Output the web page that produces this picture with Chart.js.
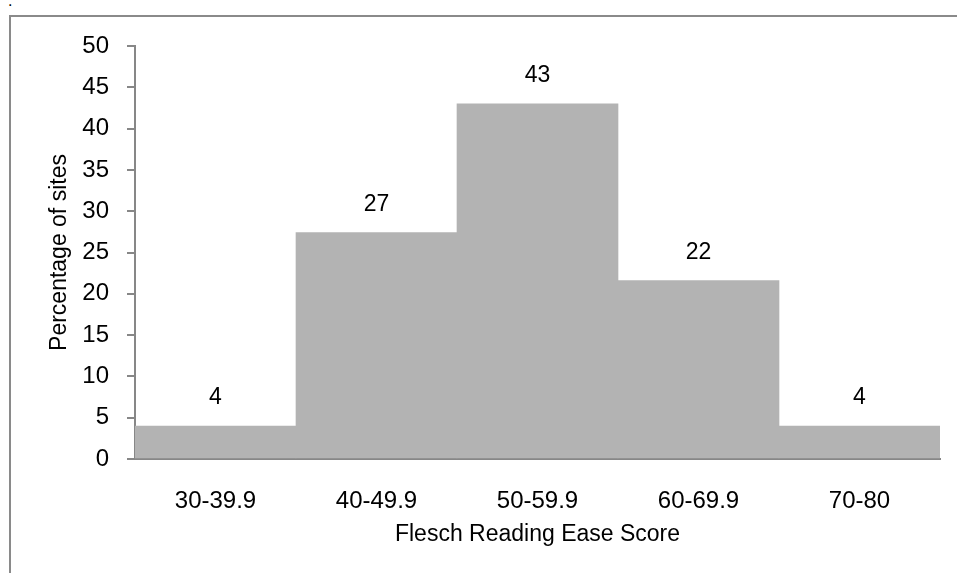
<!DOCTYPE html>
<html>
<head>
<meta charset="utf-8">
<script src="https://cdn.jsdelivr.net/npm/chart.js@4/dist/chart.umd.min.js"></script>
<style>
    html, body { margin: 0; padding: 0; background: #fff; }
    #wrap { position: relative; width: 957px; height: 573px; overflow: hidden; }
    #frame {
        position: absolute; left: 9px; top: 15px; width: 1000px; height: 700px;
        border-left: 2px solid #8a8a8a; border-top: 2px solid #8a8a8a;
    }
    #dot { position: absolute; left: 8px; top: -8px; font: 16px "Liberation Sans", Arial, sans-serif; color: #000; }
    canvas { position: absolute; left: 0; top: 0; }
</style>
</head>
<body>
<div id="wrap">
    <div id="frame"></div>
    <div id="dot">.</div>
    <canvas id="chart" width="957" height="573"></canvas>
</div>
<script>
// ── Data ──
const categories = ['30-39.9', '40-49.9', '50-59.9', '60-69.9', '70-80'];
const percentages = [4, 27.4, 43, 21.6, 4];
const yTicks = [0, 5, 10, 15, 20, 25, 30, 35, 40, 45, 50];

const FONT = '"Liberation Sans", Arial, sans-serif';
const AXIS_GRAY = '#878787';

// ── Value labels above the bars ──
const barLabels = {
    id: 'barLabels',
    afterDatasetsDraw(chart) {
        const ctx = chart.ctx;
        const meta = chart.getDatasetMeta(0);
        ctx.save();
        ctx.font = '23px ' + FONT;
        ctx.fillStyle = '#000';
        ctx.textAlign = 'center';
        ctx.textBaseline = 'middle';
        meta.data.forEach((bar, i) => {
            ctx.fillText(Math.round(percentages[i]).toString(), bar.x, bar.y - 28);
        });
        ctx.restore();
    }
};

new Chart(document.getElementById('chart'), {
    type: 'bar',
    data: {
        labels: categories,
        datasets: [{
            data: percentages,
            backgroundColor: '#b3b3b3',
            borderWidth: 0,
            barPercentage: 1,
            categoryPercentage: 1,
        }],
    },
    options: {
        responsive: false,
        animation: false,
        layout: { padding: { top: 46, right: 17, bottom: 0, left: 0 } },
        plugins: { legend: { display: false }, tooltip: { enabled: false } },
        scales: {
            x: {
                grid: { display: false },
                border: { display: true, color: AXIS_GRAY, width: 2 },
                ticks: { color: '#000', font: { family: FONT, size: 24 }, padding: 20, maxRotation: 0 },
                title: {
                    display: true, text: 'Flesch Reading Ease Score', color: '#000',
                    font: { family: FONT, size: 23 }, padding: { top: 0, bottom: 25 },
                },
                afterFit(scale) { scale.height = 114; },
            },
            y: {
                min: 0, max: 50,
                afterBuildTicks(scale) { scale.ticks = yTicks.map(v => ({ value: v })); },
                grid: { display: true, drawOnChartArea: false, drawTicks: true, tickLength: 8, color: AXIS_GRAY, lineWidth: 2 },
                border: { display: true, color: AXIS_GRAY, width: 2 },
                ticks: { color: '#000', font: { family: FONT, size: 24 }, padding: 18 },
                title: {
                    display: true, text: 'Percentage of sites', color: '#000',
                    font: { family: FONT, size: 23 }, padding: { top: 46, bottom: 0 },
                },
                afterFit(scale) { scale.width = 135; },
            },
        },
    },
    plugins: [barLabels],
});
</script>
</body>
</html>
